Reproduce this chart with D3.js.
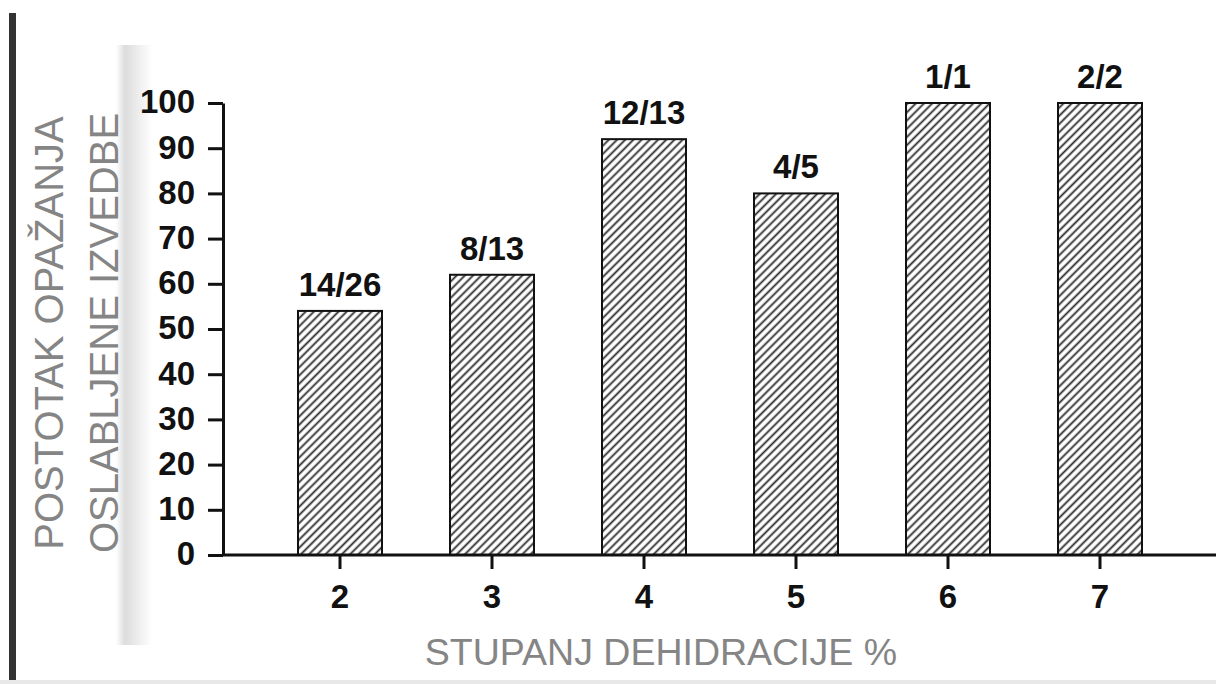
<!DOCTYPE html>
<html>
<head>
<meta charset="utf-8">
<script src="https://cdn.jsdelivr.net/npm/d3@7"></script>
<style>
  body { margin: 0; background: #fff; }
  svg { display: block; }
  .tick text { font-family: "Liberation Sans", Arial, sans-serif; font-weight: bold; }
</style>
</head>
<body>
<div id="chart"></div>
<script>
const categories = ['2', '3', '4', '5', '6', '7'];
const percentages = [54, 62, 92, 80, 100, 100];
const counts = ['14/26', '8/13', '12/13', '4/5', '1/1', '2/2'];
const yTicks = [0, 10, 20, 30, 40, 50, 60, 70, 80, 90, 100];

const width = 1216, height = 684;
const svg = d3.select('#chart')
  .append('svg')
  .attr('width', width)
  .attr('height', height);

// hatch fill for the bars
const defs = svg.append('defs');
defs.append('pattern')
  .attr('id', 'hatch')
  .attr('patternUnits', 'userSpaceOnUse')
  .attr('width', 5.8)
  .attr('height', 5.8)
  .attr('patternTransform', 'rotate(45)')
  .call(p => {
    p.append('rect').attr('width', 5.8).attr('height', 5.8).attr('fill', '#fff');
    p.append('line')
      .attr('x1', 1.5).attr('y1', 0).attr('x2', 1.5).attr('y2', 5.8)
      .attr('stroke', '#2a2a2a').attr('stroke-width', 1.8);
  });

const shade = defs.append('linearGradient').attr('id', 'shade');
shade.append('stop').attr('offset', '0%').attr('stop-color', '#fff');
shade.append('stop').attr('offset', '25%').attr('stop-color', '#dcdcdc');
shade.append('stop').attr('offset', '100%').attr('stop-color', '#fff');

// page frame bits
svg.append('rect').attr('x', 116).attr('y', 45).attr('width', 36).attr('height', 600)
  .attr('fill', 'url(#shade)');
svg.append('rect').attr('x', 9).attr('y', 13).attr('width', 7).attr('height', height - 13)
  .attr('fill', '#333');
svg.append('rect').attr('x', 0).attr('y', 680).attr('width', width).attr('height', 4)
  .attr('fill', '#e8e8e8');

const x = d3.scaleBand()
  .domain(categories)
  .range([264, 1176])
  .paddingInner(68 / 152)
  .paddingOuter(34 / 152);

const y = d3.scaleLinear()
  .domain([0, 100])
  .range([555, 103]);

// bars
svg.selectAll('rect.bar')
  .data(percentages)
  .enter()
  .append('rect')
  .attr('class', 'bar')
  .attr('x', (d, i) => x(categories[i]))
  .attr('y', d => y(d))
  .attr('width', x.bandwidth())
  .attr('height', d => y(0) - y(d))
  .attr('fill', 'url(#hatch)')
  .attr('stroke', '#111')
  .attr('stroke-width', 2);

// count labels above bars
svg.selectAll('text.count')
  .data(counts)
  .enter()
  .append('text')
  .attr('class', 'count')
  .attr('x', (d, i) => x(categories[i]) + x.bandwidth() / 2)
  .attr('y', (d, i) => y(percentages[i]) - 15)
  .attr('text-anchor', 'middle')
  .attr('font-family', '"Liberation Sans", Arial, sans-serif')
  .attr('font-weight', 'bold')
  .attr('font-size', 33)
  .attr('fill', '#111')
  .text(d => d);

// y axis
const yAxis = svg.append('g')
  .attr('transform', 'translate(223,0)')
  .call(d3.axisLeft(y).tickValues(yTicks).tickSize(15).tickSizeOuter(0).tickPadding(13));
yAxis.select('.domain').attr('stroke-width', 3).attr('stroke', '#111');
yAxis.selectAll('.tick line').attr('stroke-width', 3).attr('stroke', '#111');
yAxis.selectAll('.tick text').attr('font-size', 33).attr('fill', '#111').attr('dy', '0.3em');

// x axis
const xAxis = svg.append('g')
  .attr('transform', 'translate(0,555)')
  .call(d3.axisBottom(x).tickSize(14).tickSizeOuter(0).tickPadding(16));
xAxis.select('.domain').remove();
xAxis.selectAll('.tick line').attr('stroke-width', 3).attr('stroke', '#111');
xAxis.selectAll('.tick text').attr('font-size', 33).attr('fill', '#111');
svg.append('line')
  .attr('x1', 222).attr('x2', width)
  .attr('y1', 555).attr('y2', 555)
  .attr('stroke', '#111').attr('stroke-width', 3);

// axis titles
svg.append('text')
  .attr('x', 661).attr('y', 665)
  .attr('text-anchor', 'middle')
  .attr('font-family', '"Liberation Sans", Arial, sans-serif')
  .attr('font-size', 37.5)
  .attr('fill', '#858585')
  .text('STUPANJ DEHIDRACIJE %');

const yTitle = ['POSTOTAK OPAŽANJA', 'OSLABLJENE IZVEDBE'];
svg.selectAll('text.ytitle')
  .data(yTitle)
  .enter()
  .append('text')
  .attr('class', 'ytitle')
  .attr('transform', (d, i) => `translate(${63 + i * 55},333) rotate(-90)`)
  .attr('text-anchor', 'middle')
  .attr('font-family', '"Liberation Sans", Arial, sans-serif')
  .attr('font-size', 40)
  .attr('fill', '#858585')
  .text(d => d);
</script>
</body>
</html>
